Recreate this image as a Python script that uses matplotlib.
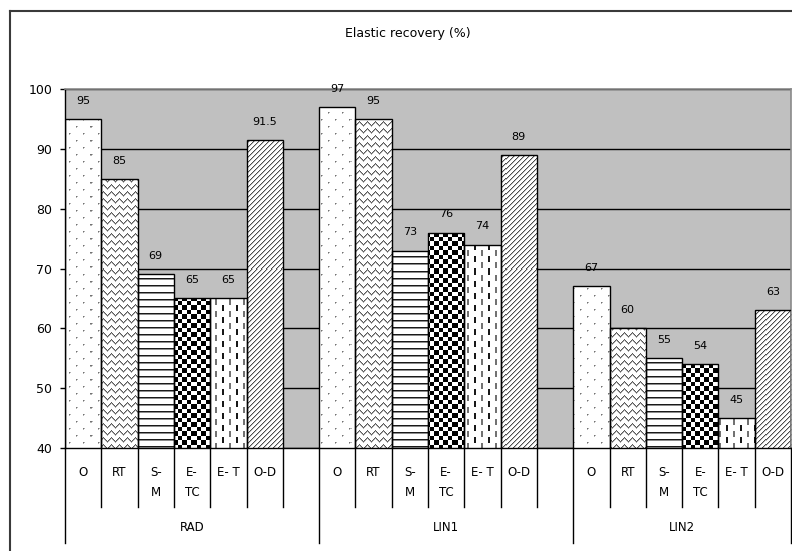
import numpy as np
import matplotlib
matplotlib.use("Agg")
import matplotlib.pyplot as plt
import matplotlib.transforms as mtransforms
from matplotlib.lines import Line2D

plt.rcParams["font.family"] = ["DejaVu Sans"]

# ---- data -------------------------------------------------------------
groups = ["RAD", "LIN1", "LIN2"]
treatments = ["O", "RT", "S-\nM", "E-\nTC", "E- T", "O-D"]
rad = [95, 85, 69, 65, 65, 91.5]
lin1 = [97, 95, 73, 76, 74, 89]
lin2 = [67, 60, 55, 54, 45, 63]
series = [rad, lin1, lin2]
title = "Elastic recovery (%)"
y_ticks = [40, 50, 60, 70, 80, 90, 100]

# ---- figure -----------------------------------------------------------
W_PX, H_PX, DPI = 792, 551, 100
fig = plt.figure(figsize=(W_PX / DPI, H_PX / DPI), dpi=DPI)
ax_left, ax_right, ax_top, ax_bottom = 65, 791, 89, 448
ax = fig.add_axes([ax_left / W_PX, 1 - ax_bottom / H_PX,
                   (ax_right - ax_left) / W_PX, (ax_bottom - ax_top) / H_PX])
ax.set_facecolor("#c0c0c0")

# pixel-sized texture tiles for the bar fills
TH, TW = ax_bottom - ax_top, ax_right - ax_left
ii, jj = np.mgrid[0:TH, 0:TW].astype(float)


def dots():
    g = np.ones((TH, TW))
    row = (ii // 7).astype(int)
    phase = (jj + 7 * (row % 2)) % 14
    r = ii % 7
    g[(r == 3) & (phase == 4)] = 0.45
    g[(r == 3) & (phase == 5)] = 0.7
    g[(r == 4) & (phase == 4)] = 0.7
    return g


def waves():
    f = np.round(ii - 2.0 * np.sin(2 * np.pi * jj / 8.0)) % 7
    return np.where(f == 0, 0.35, np.where(f == 1, 0.68, 1.0))


def stripes():
    f = ii % 7
    return np.where(f == 0, 0.1, np.where(f == 1, 0.55, 1.0))


def checker():
    s = 4.5
    return (((ii // s) + (jj // s)) % 2).astype(float)


def dashes():
    g = np.ones((TH, TW))
    col = (jj // 7).astype(int)
    on = ((jj % 7 == 3) | (jj % 7 == 4)) & (((ii + 6 * (col % 2)) % 12) < 6)
    shade = np.where(col % 2 == 0, 0.1, 0.45)
    g[on] = shade[on]
    return g


def diagonal():
    f = (ii + jj) % 5
    return np.where(f == 0, 0.3, np.where(f == 1, 0.75, 1.0))


textures = [dots(), waves(), stripes(), checker(), dashes(), diagonal()]
textures = [np.dstack([t, t, t]) for t in textures]

slots_per_group = len(treatments) + 1
n_slots = slots_per_group * len(groups) - 1
ax.set_xlim(0, n_slots)
ax.set_ylim(y_ticks[0], y_ticks[-1])

for g, vals in enumerate(series):
    for k, v in enumerate(vals):
        x = g * slots_per_group + k + 0.5
        face = ax.bar(x, v, width=1.0, color="white", edgecolor="none",
                      zorder=2)[0]
        im = ax.imshow(textures[k], extent=(0, n_slots, y_ticks[0], y_ticks[-1]),
                       origin="upper", interpolation="nearest", aspect="auto",
                       zorder=2.2)
        im.set_clip_path(face)
        ax.bar(x, v, width=1.0, fill=False, edgecolor="black", linewidth=1.0,
               zorder=3)
        ax.annotate(f"{v:g}", (x, v), xytext=(0, 9.5), textcoords="offset points",
                    ha="center", va="bottom", fontsize=8, zorder=4)

ax.set_xlim(0, n_slots)
ax.set_ylim(y_ticks[0], y_ticks[-1])

# gridlines
ax.set_axisbelow(True)
ax.set_yticks(y_ticks)
ax.yaxis.grid(True, color="black", linewidth=1.0)
ax.xaxis.grid(False)
ax.set_xticks([])
ax.tick_params(axis="y", length=3.6, width=1.0, pad=5.5, labelsize=9,
               direction="out")
for side in ("left", "bottom"):
    ax.spines[side].set_color("black")
    ax.spines[side].set_linewidth(1.0)
for side in ("top", "right"):
    ax.spines[side].set_color("#8a8a8a")
    ax.spines[side].set_linewidth(1.2)

# category axis: two-level labels with separator lines
trans = mtransforms.blended_transform_factory(ax.transData, ax.transAxes)
short_y, long_y = -0.164, -0.265
for b in range(n_slots + 1):
    is_group_edge = (b % slots_per_group == 0) or b == n_slots
    ax.plot([b, b], [0, long_y if is_group_edge else short_y], transform=trans,
            color="black", linewidth=1.0, clip_on=False, zorder=5)

for g, name in enumerate(groups):
    start = g * slots_per_group
    for k, lab in enumerate(treatments):
        ax.text(start + k + 0.5, -0.05, lab, transform=trans, ha="center",
                va="top", fontsize=8.5, linespacing=1.75)
    end = min(start + slots_per_group, n_slots)
    ax.text((start + end) / 2, -0.222, name, transform=trans, ha="center",
            va="center", fontsize=8.5)

fig.text(0.515, 1 - 34 / H_PX, title, ha="center", va="center", fontsize=9)

# chart frame
fx, fy = 10 / W_PX, 1 - 11 / H_PX
fig.add_artist(Line2D([fx, fx], [0, fy], transform=fig.transFigure,
                      color="#3a3a3a", linewidth=1.5))
fig.add_artist(Line2D([fx, 1], [fy, fy], transform=fig.transFigure,
                      color="#3a3a3a", linewidth=1.5))

fig.savefig("out.png", dpi=DPI, facecolor="white")
